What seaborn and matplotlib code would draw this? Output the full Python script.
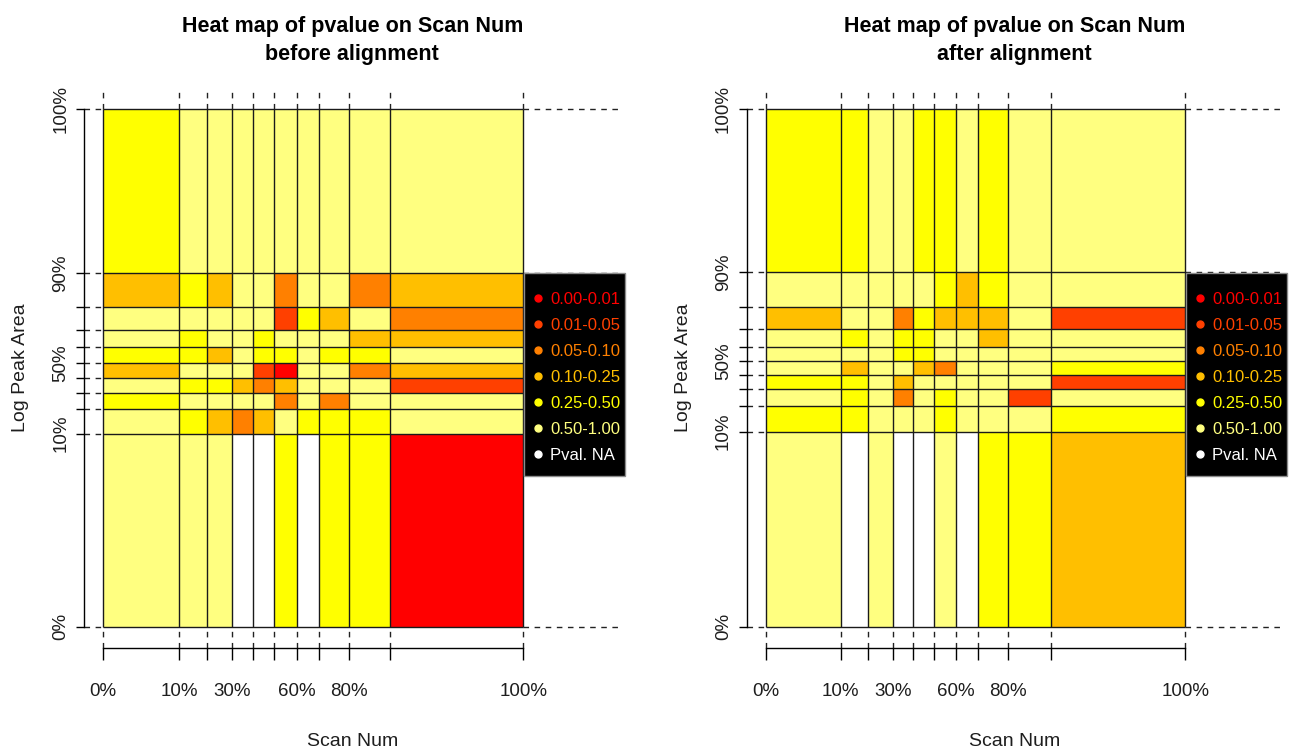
import numpy as np
import pandas as pd
import matplotlib
matplotlib.use("Agg")
import matplotlib.pyplot as plt
import seaborn as sns
from matplotlib.colors import ListedColormap
from matplotlib.lines import Line2D
from matplotlib.patches import Rectangle
from matplotlib import font_manager

# ---------------- data ----------------
pval_labels = ["0.00-0.01", "0.01-0.05", "0.05-0.10", "0.10-0.25", "0.25-0.50", "0.50-1.00"]
na_label = "Pval. NA"
pval_colors = ["#FF0000", "#FF4000", "#FF8000", "#FFBF00", "#FFFF00", "#FFFF80"]
na_color = "#FFFFFF"

quantile_names = ["0%", "10%", "20%", "30%", "40%", "50%", "60%", "70%", "80%", "90%", "100%"]
x_labels_shown = ["0%", "10%", "30%", "60%", "80%", "100%"]
y_labels_shown = ["0%", "10%", "50%", "90%", "100%"]

# quantile positions (scaled 0-100) of Scan Num and Log Peak Area
scan_q_before = [0, 18.1, 24.8, 30.7, 35.7, 40.6, 46.1, 51.4, 58.6, 68.2, 100]
area_q_before = [0, 37.3, 42.1, 45.2, 48.1, 50.9, 54.0, 57.3, 61.7, 68.4, 100]
scan_q_after = [0, 17.8, 24.4, 30.4, 35.1, 40.0, 45.2, 50.6, 57.8, 67.9, 100]
area_q_after = [0, 37.7, 42.7, 46.0, 48.6, 51.4, 54.1, 57.5, 61.8, 68.6, 100]

# p-value class per cell (1..6 -> pval_labels, 0 -> NA); rows from top (90-100%) to bottom (0-10%)
codes_before = [
    [5, 6, 6, 6, 6, 6, 6, 6, 6, 6],
    [4, 5, 4, 6, 6, 3, 6, 6, 3, 4],
    [6, 6, 6, 6, 6, 2, 5, 4, 6, 3],
    [6, 5, 6, 6, 5, 6, 6, 6, 4, 4],
    [5, 5, 4, 6, 5, 5, 6, 5, 5, 6],
    [4, 6, 6, 6, 2, 1, 6, 6, 3, 4],
    [6, 5, 5, 4, 3, 4, 6, 6, 6, 2],
    [5, 6, 6, 6, 6, 3, 6, 3, 6, 6],
    [6, 5, 4, 3, 4, 6, 5, 5, 5, 6],
    [6, 6, 6, 0, 0, 5, 0, 5, 5, 1],
]
codes_after = [
    [5, 5, 6, 6, 5, 5, 6, 5, 6, 6],
    [6, 6, 6, 6, 6, 5, 4, 5, 6, 6],
    [4, 6, 6, 3, 5, 4, 4, 4, 6, 2],
    [6, 5, 6, 5, 5, 6, 6, 4, 6, 6],
    [6, 6, 6, 5, 5, 6, 6, 6, 6, 6],
    [6, 4, 6, 6, 4, 3, 6, 6, 6, 5],
    [5, 5, 6, 4, 6, 6, 6, 6, 6, 2],
    [6, 5, 6, 3, 6, 5, 6, 6, 2, 6],
    [5, 5, 6, 6, 6, 5, 6, 6, 6, 5],
    [6, 0, 6, 0, 0, 6, 0, 5, 5, 4],
]

titles = ["Heat map of pvalue on Scan Num\nbefore alignment",
          "Heat map of pvalue on Scan Num\nafter alignment"]
x_title = "Scan Num"
y_title = "Log Peak Area"

# ---------------- style ----------------
sns.set_theme(style="white")
names = {f.name for f in font_manager.fontManager.ttflist}
if "Liberation Sans Narrow" in names:
    FAM = ["Liberation Sans Narrow", "DejaVu Sans"]
else:
    FAM = ["Liberation Sans", "DejaVu Sans"]
plt.rcParams["font.family"] = FAM

TICK_FS = 13.5
LAB_FS = 14
LEG_FS = 12
TITLE_FS = 15.5

FIG_W, FIG_H = 1292, 755
fig = plt.figure(figsize=(FIG_W / 100, FIG_H / 100), dpi=100)
fig.patch.set_facecolor("white")


def rect(x0, y0, x1, y1):
    return [x0 / FIG_W, 1 - y1 / FIG_H, (x1 - x0) / FIG_W, (y1 - y0) / FIG_H]


cmap = ListedColormap(pval_colors)
PX = 72 / 100  # points per pixel
DASH = (0, (4, 4))

panels = [
    dict(box=(103.3, 109.3, 523.3, 626.7), scan=scan_q_before, area=area_q_before,
         codes=codes_before, title=titles[0]),
    dict(box=(766.0, 109.3, 1185.3, 626.7), scan=scan_q_after, area=area_q_after,
         codes=codes_after, title=titles[1]),
]

for p in panels:
    x0, y0, x1, y1 = p["box"]
    wpx, hpx = x1 - x0, y1 - y0
    ax = fig.add_axes(rect(x0, y0, x1, y1))
    scan, area, codes = p["scan"], p["area"], p["codes"]

    rows = []
    nrow = len(codes)
    for i, row in enumerate(codes):
        k = nrow - 1 - i
        for j, c in enumerate(row):
            rows.append(dict(scan=(scan[j] + scan[j + 1]) / 2,
                             area=(area[k] + area[k + 1]) / 2,
                             code=c))
    df = pd.DataFrame(rows)

    sns.histplot(data=df, x="scan", y="area", weights="code",
                 bins=[scan, area], cmap=cmap, vmin=0.5, vmax=6.5,
                 cbar=False, ax=ax)

    ax.set_xlim(0, 100)
    ax.set_ylim(0, 100)
    dx = 100 / wpx  # data units per pixel
    dy = 100 / hpx

    # solid cell borders
    ax.vlines(scan, 0, 100, colors="#1a1a1a", linewidth=1.0, zorder=3, clip_on=False)
    ax.hlines(area, 0, 100, colors="#1a1a1a", linewidth=1.0, zorder=3, clip_on=False)
    # dashed extensions
    ax.vlines(scan, 100, 100 + 21 * dy, colors="#222222", linewidth=1.0,
              linestyles=[DASH], clip_on=False)
    ax.vlines(scan, -21 * dy, 0, colors="#222222", linewidth=1.0,
              linestyles=[DASH], clip_on=False)
    ax.hlines(area, -19 * dx, 0, colors="#222222", linewidth=1.0,
              linestyles=[DASH], clip_on=False)
    ax.hlines(area, 100, 100 + 97 * dx, colors="#222222", linewidth=1.0,
              linestyles=[DASH], clip_on=False)

    # axes
    for s in ["top", "right"]:
        ax.spines[s].set_visible(False)
    ax.spines["left"].set_position(("outward", 19 * PX))
    ax.spines["bottom"].set_position(("outward", 21 * PX))
    ax.spines["left"].set_bounds(0, 100)
    ax.spines["bottom"].set_bounds(0, 100)
    for s in ["left", "bottom"]:
        ax.spines[s].set_color("black")
        ax.spines[s].set_linewidth(1.0)

    ax.set_xticks(scan)
    ax.set_xticklabels([n if n in x_labels_shown else "" for n in quantile_names])
    ax.set_yticks(area)
    ax.set_yticklabels([n if n in y_labels_shown else "" for n in quantile_names])
    ax.tick_params(axis="x", direction="out", length=12 * PX, width=1.0, color="black",
                   pad=17, labelsize=TICK_FS, labelcolor="#1e1e1e", bottom=True)
    ax.tick_params(axis="y", direction="out", length=8 * PX, width=1.0, color="black",
                   pad=5, labelsize=TICK_FS, labelcolor="#1e1e1e", left=True,
                   labelrotation=90)
    for lbl in ax.get_yticklabels():
        lbl.set_va("center")
    ax.set_xlabel("")
    ax.set_ylabel("")
    ax.grid(False)

    # titles / axis titles centred on the whole plot region
    cx = (x0 - 19 + x1 + 97) / 2
    fig.text(cx / FIG_W, 1 - 40.5 / FIG_H, p["title"], ha="center", va="center",
             fontsize=TITLE_FS, fontweight="bold", color="black", linespacing=1.42)
    fig.text(cx / FIG_W, 1 - 741 / FIG_H, x_title, ha="center", va="center",
             fontsize=LAB_FS, color="#1e1e1e")
    fig.text((x0 - 83) / FIG_W, 1 - 368 / FIG_H, y_title, ha="center", va="center",
             rotation=90, fontsize=LAB_FS, color="#1e1e1e")

    # legend box
    lx0, ly0, lx1, ly1 = x1 + 0.7, 272.7, x1 + 102, 476
    box = Rectangle((lx0 / FIG_W, 1 - ly1 / FIG_H), (lx1 - lx0) / FIG_W, (ly1 - ly0) / FIG_H,
                    transform=fig.transFigure, facecolor="black", edgecolor="#8c8c8c",
                    linewidth=1.0, zorder=4)
    fig.add_artist(box)
    handles = [Line2D([], [], marker="o", linestyle="", markersize=5,
                      markerfacecolor=c, markeredgecolor=c)
               for c in pval_colors + [na_color]]
    leg = fig.legend(handles, pval_labels + [na_label], loc="upper left",
                     bbox_to_anchor=((lx0 + 8.5) / FIG_W, 1 - 291.8 / FIG_H),
                     bbox_transform=fig.transFigure, frameon=False,
                     fontsize=LEG_FS, labelcolor=pval_colors + [na_color],
                     handlelength=0.6, handletextpad=0.45, borderpad=0,
                     borderaxespad=0, labelspacing=0.66)
    leg.set_zorder(6)

fig.savefig("out.png", dpi=100)
